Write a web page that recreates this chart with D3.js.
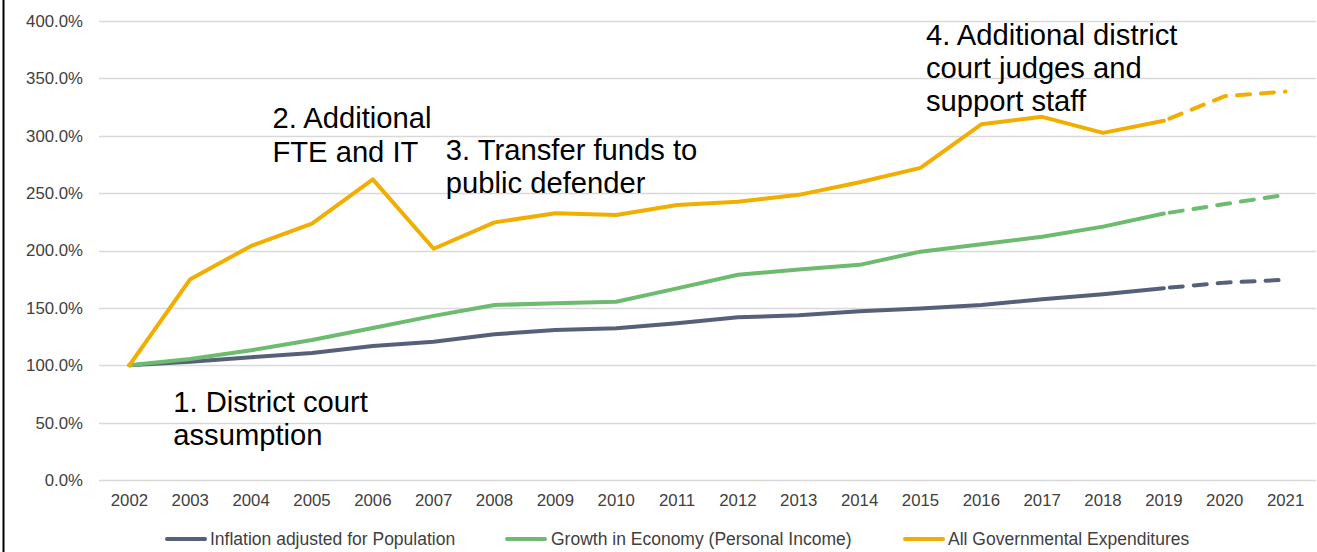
<!DOCTYPE html>
<html>
<head>
<meta charset="utf-8">
<script src="https://cdn.jsdelivr.net/npm/d3@7/dist/d3.min.js"></script>
<style>
  html, body { margin: 0; padding: 0; background: #fff; }
  svg { display: block; font-family: "Liberation Sans", Arial, sans-serif; }
</style>
</head>
<body>
<svg id="chart" width="1317" height="552"></svg>
<script>
const years = ["2002","2003","2004","2005","2006","2007","2008","2009","2010","2011","2012","2013","2014","2015","2016","2017","2018","2019","2020","2021"];
const inflationPop = [100,103,107,110.7,116.8,120.5,127,130.7,132.2,136.5,141.8,143.5,147,149.5,152.5,157.5,161.8,167.2,172,174.5];
const personalIncome = [100,105.4,113,122,132.5,143,152.5,154,155.4,167,178.8,183.5,187.5,199,205.5,212,220.8,232.2,240.5,248.5];
const govExpenditures = [100,175,204,223.5,262,201.5,224.5,232.5,231,239.7,242.5,248.5,259.5,272,310,316.5,302.5,313,334.5,338.5];
const lastActualYear = "2019";
const yTicks = [0,50,100,150,200,250,300,350,400];
const seriesNames = ["Inflation adjusted for Population","Growth in Economy (Personal Income)","All Governmental Expenditures"];
const seriesColors = ["#576079","#6dbb6f","#f2ae00"];
const annotations = [
  {lines:["1. District court","assumption"]},
  {lines:["2. Additional","FTE and IT"]},
  {lines:["3. Transfer funds to","public defender"]},
  {lines:["4. Additional district","court judges and","support staff"]}
];
// annotation text anchor positions in data space (x: year band offset, y: value for first baseline)
const annotationPos = [
  {year:"2002", dx:0.72, y:59.5},
  {year:"2005", dx:-0.65, y:306.5},
  {year:"2007", dx:0.2, y:279},
  {year:"2015", dx:0.09, y:379.5}
];

const svg = d3.select("#chart");
const W = 1317, H = 552;
const margin = {left: 99, right: 1, top: 21, bottom: 72};
const x = d3.scaleBand().domain(years).range([margin.left, W - margin.right]).padding(0);
const y = d3.scaleLinear().domain([0, 400]).range([H - margin.bottom, margin.top]);
const cx = d => x(d) + x.bandwidth() / 2;

// border on left
svg.append("line").attr("x1", 3.5).attr("x2", 3.5).attr("y1", 0).attr("y2", H)
  .attr("stroke", "#000").attr("stroke-width", 2);

// gridlines
svg.append("g").selectAll("line").data(yTicks).join("line")
  .attr("x1", margin.left).attr("x2", W - margin.right)
  .attr("y1", d => Math.round(y(d)) + 0.5).attr("y2", d => Math.round(y(d)) + 0.5)
  .attr("stroke", "#d9d9d9").attr("stroke-width", 1.3);

// y axis labels
const yAxis = d3.axisLeft(y).tickValues(yTicks).tickSize(0).tickPadding(0)
  .tickFormat(d => d3.format(".1f")(d) + "%");
const gy = svg.append("g").attr("transform", `translate(${83},0)`).call(yAxis);
gy.select(".domain").remove();
gy.selectAll("text").attr("font-size", 16.8).attr("fill", "#404040")
  .attr("font-family", "Liberation Sans, Arial, sans-serif");

// x axis labels
const xAxis = d3.axisBottom(x).tickSize(0).tickPadding(0);
const gx = svg.append("g").attr("transform", `translate(0,${494})`).call(xAxis);
gx.select(".domain").remove();
gx.selectAll("text").attr("font-size", 16.8).attr("fill", "#404040")
  .attr("font-family", "Liberation Sans, Arial, sans-serif");

// lines
const allSeries = [inflationPop, personalIncome, govExpenditures];
const lastIdx = years.indexOf(lastActualYear);
const line = d3.line().x(d => cx(d.year)).y(d => y(d.v));
allSeries.forEach((vals, i) => {
  const pts = years.map((yr, j) => ({year: yr, v: vals[j]}));
  const actual = pts.slice(0, lastIdx + 1);
  const proj = pts.slice(lastIdx);
  svg.append("path").datum(actual).attr("d", line)
    .attr("fill", "none").attr("stroke", seriesColors[i]).attr("stroke-width", 4)
    .attr("stroke-linejoin", "round").attr("stroke-linecap", "round");
  svg.append("path").datum(proj).attr("d", line)
    .attr("fill", "none").attr("stroke", seriesColors[i]).attr("stroke-width", 4)
    .attr("stroke-dasharray", "13,11").attr("stroke-dashoffset", -6)
    .attr("stroke-linecap", "round");
});

// annotations
annotations.forEach((a, i) => {
  const p = annotationPos[i];
  const tx = cx(p.year) + p.dx * x.bandwidth();
  const ty = y(p.y);
  const t = svg.append("text").attr("x", tx).attr("y", ty)
    .attr("font-size", 29.2).attr("fill", "#000");
  a.lines.forEach((ln, k) => {
    t.append("tspan").attr("x", tx).attr("y", ty + k * 33.3).text(ln);
  });
});

// legend
const legendItems = [
  {lx: 167, tx: 210},
  {lx: 507, tx: 551},
  {lx: 905, tx: 948}
];
const legendY = 539;
seriesNames.forEach((name, i) => {
  const L = legendItems[i];
  svg.append("line").attr("x1", L.lx).attr("x2", L.lx + 38)
    .attr("y1", legendY).attr("y2", legendY)
    .attr("stroke", seriesColors[i]).attr("stroke-width", 4).attr("stroke-linecap", "round");
  svg.append("text").attr("x", L.tx).attr("y", legendY + 6)
    .attr("font-size", 17.5).attr("fill", "#404040").text(name);
});
</script>
</body>
</html>
